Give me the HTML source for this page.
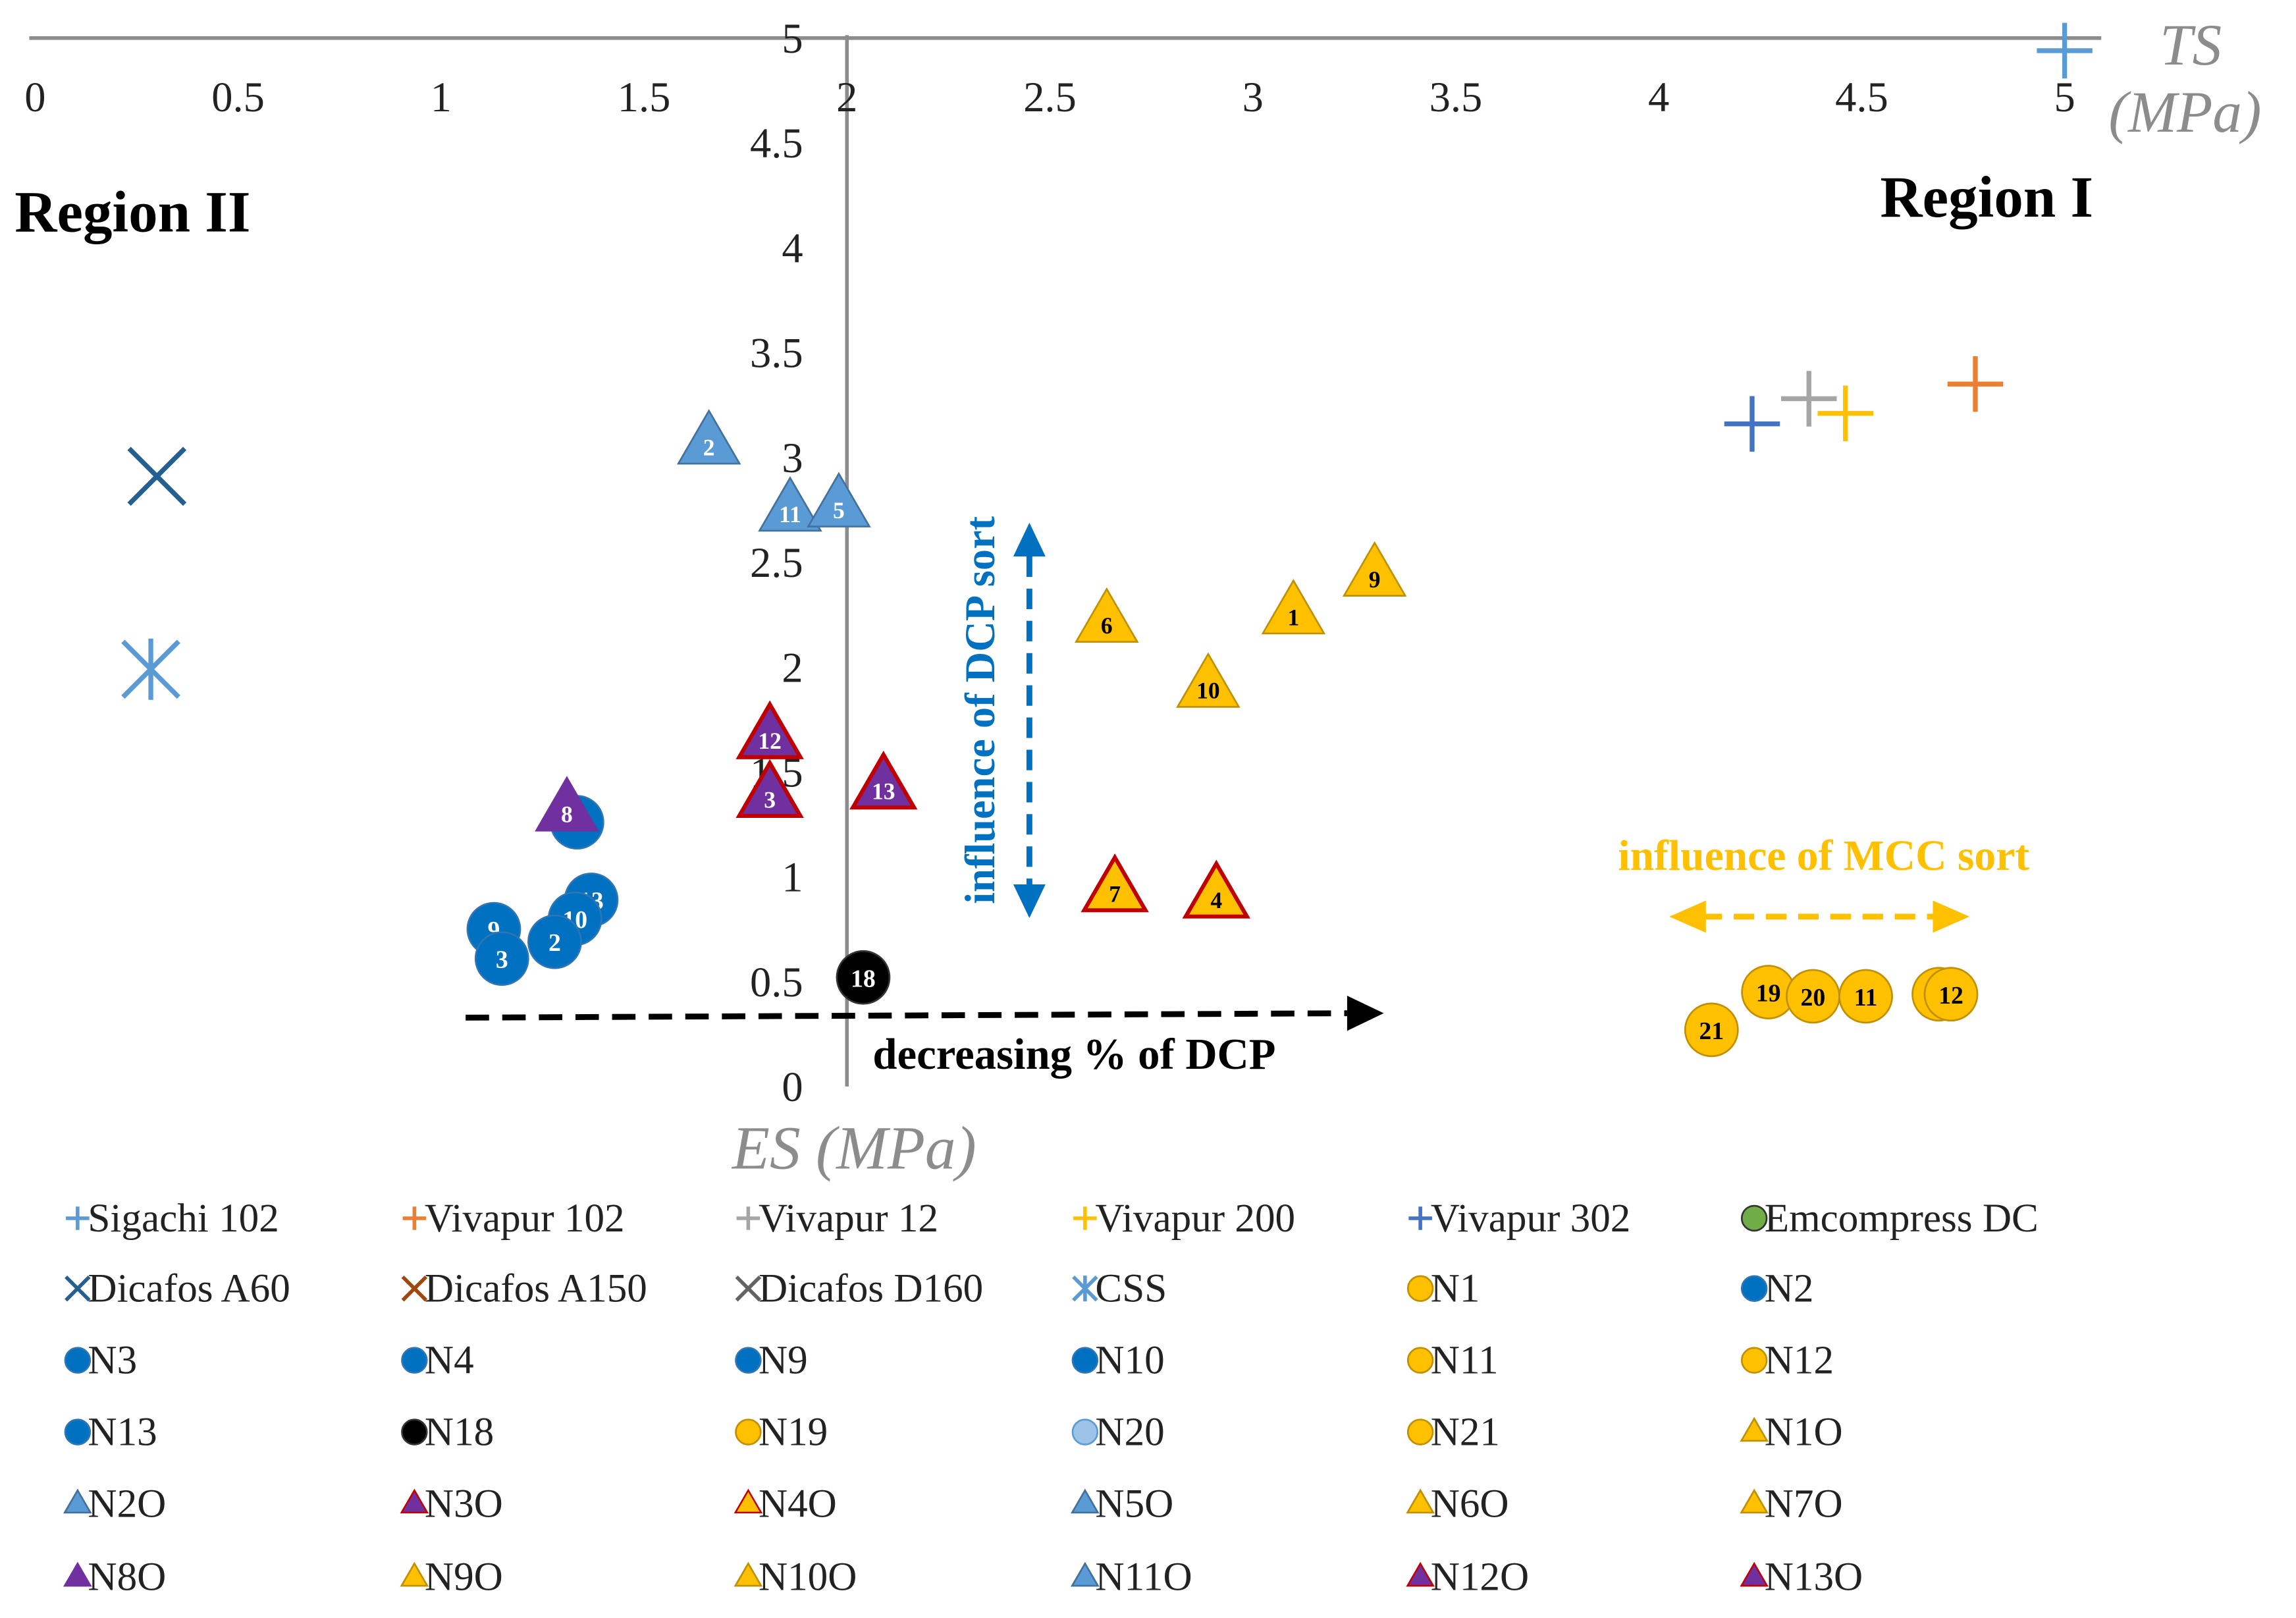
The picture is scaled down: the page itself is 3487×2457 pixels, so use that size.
<!DOCTYPE html>
<html><head><meta charset="utf-8"><style>
html,body{margin:0;padding:0;background:#fff}
svg{display:block}
text{font-family:"Liberation Serif",serif}
</style></head><body>
<svg id="chart" width="3487" height="2457" viewBox="0 0 1568 1105" preserveAspectRatio="none" xmlns="http://www.w3.org/2000/svg">
<g id="axes"></g>
<g id="marks"></g>
<g id="annot">
<text x="10" y="158" font-size="40" font-weight="bold">Region II</text>
<text x="1284" y="148" font-size="40" font-weight="bold">Region I</text>
<text x="1475" y="44" font-size="40" font-style="italic" fill="#8c8c8c">TS</text>
<text x="1440" y="90" font-size="40" font-style="italic" fill="#8c8c8c">(MPa)</text>
<text x="500" y="798" font-size="42" font-style="italic" fill="#8c8c8c">ES (MPa)</text>
<line x1="703" y1="380" x2="703" y2="608" stroke="#0070c0" stroke-width="4" stroke-dasharray="14,8"/>
<path d="M692,380 L703,357 L714,380z M692,604 L703,627 L714,604z" fill="#0070c0"/>
<text transform="translate(679,485) rotate(-90)" text-anchor="middle" font-size="29" font-weight="bold" fill="#0070c0">influence of DCP sort</text>
<text x="1105" y="594" font-size="29.5" font-weight="bold" fill="#ffc000">influence of MCC sort</text>
<line x1="1162" y1="626" x2="1322" y2="626" stroke="#ffc000" stroke-width="4" stroke-dasharray="14,8"/>
<path d="M1165,615 L1140,626 L1165,637z M1320,615 L1345,626 L1320,637z" fill="#ffc000"/>
<line x1="318" y1="695" x2="920" y2="692" stroke="#000" stroke-width="4" stroke-dasharray="16,9"/>
<path d="M920,680 L945,692 L920,704z" fill="#000"/>
<text x="596" y="730" font-size="30" font-weight="bold">decreasing % of DCP</text>
</g>
<g id="legend"></g>
</svg>
<script>
const NS="http://www.w3.org/2000/svg";
const xTicks=[0,0.5,1,1.5,2,2.5,3,3.5,4,4.5,5];
const yTicks=[0,0.5,1,1.5,2,2.5,3,3.5,4,4.5,5];
const pointNames=["Sigachi 102","Vivapur 102","Vivapur 12","Vivapur 200","Vivapur 302","Dicafos A60","CSS",
"N4","N13","N10","N9","N2","N3","N18","N19","N20","N11","N12b","N12","N21",
"N2O","N11O","N5O","N6O","N1O","N9O","N10O","N12O","N3O","N13O","N8O","N7O","N4O"];
const esValues=[5.0,4.78,4.37,4.46,4.23,0.30,0.285,
1.335,1.37,1.33,1.13,1.28,1.15,2.04,4.27,4.38,4.51,4.69,4.72,4.13,
1.66,1.86,1.98,2.64,3.10,3.30,2.89,1.81,1.81,2.09,1.31,2.66,2.91];
const tsValues=[4.94,3.35,3.28,3.21,3.16,2.91,1.99,
1.26,0.89,0.80,0.75,0.69,0.61,0.52,0.45,0.43,0.43,0.44,0.44,0.27,
3.07,2.75,2.77,2.22,2.26,2.44,1.91,1.67,1.39,1.43,1.32,0.94,0.91];
const pointLabels=["","","","","","","",
"4","13","10","9","2","3","18","19","20","11","","12","21",
"2","11","5","6","1","9","10","12","3","13","8","7","4"];
const pointStyles=["plus-lb","plus-or","plus-gr","plus-ye","plus-bl","x-db","ast-lb",
"c-bl","c-bl","c-bl","c-bl","c-bl","c-bl","c-bk","c-ye","c-ye","c-ye","c-ye","c-ye","c-ye",
"tri-lb","tri-lb","tri-lb","tri-ye","tri-ye","tri-ye","tri-ye","tri-pr","tri-pr","tri-pr","tri-pu","tri-yr","tri-yr"];
const legendNames=["Sigachi 102","Vivapur 102","Vivapur 12","Vivapur 200","Vivapur 302","Emcompress DC",
"Dicafos A60","Dicafos A150","Dicafos D160","CSS","N1","N2",
"N3","N4","N9","N10","N11","N12",
"N13","N18","N19","N20","N21","N1O",
"N2O","N3O","N4O","N5O","N6O","N7O",
"N8O","N9O","N10O","N11O","N12O","N13O"];
const legendStyles=["plus-lb","plus-or","plus-gr","plus-ye","plus-bl","c-gn",
"x-db","x-br","x-dg","ast-lb","c-ye","c-bl",
"c-bl","c-bl","c-bl","c-bl","c-ye","c-ye",
"c-bl","c-bk","c-ye","c-lb","c-ye","tri-ye",
"tri-lb","tri-pr","tri-yr","tri-lb","tri-ye","tri-ye",
"tri-pu","tri-ye","tri-ye","tri-lb","tri-pr","tri-pr"];
const X=v=>24+277.2*v, Y=v=>742-143.2*v;
const COL={lb:"#5b9bd5",or:"#ed7d31",gr:"#a5a5a5",ye:"#ffc000",bl:"#4472c4",db:"#255e91",br:"#9e480e",dg:"#636363",gn:"#70ad47",bk:"#000"};
function mk(tag,attrs,parent){const e=document.createElementNS(NS,tag);for(const k in attrs)e.setAttribute(k,attrs[k]);parent.appendChild(e);return e;}
const axes=document.getElementById('axes');
const xl=mk('line',{x1:20,y1:26,x2:1435,y2:26,stroke:"#8c8c8c","stroke-width":2.5},axes);


const yl=mk('line',{x1:X(2),y1:24,x2:X(2),y2:742,stroke:"#8c8c8c","stroke-width":2.5},axes);


xTicks.forEach(v=>{const t=mk('text',{x:X(v),y:76,"text-anchor":"middle","font-size":29,fill:"#222"},axes);t.textContent=v;

});
yTicks.forEach(v=>{const t=mk('text',{x:X(2)-30,y:Y(v)+10,"text-anchor":"end","font-size":29,fill:"#222"},axes);t.textContent=v;

});
function drawMarker(style,cx,cy,s,parent,label,lw){
 const [kind,c]=style.split('-');const g=mk('g',{},parent);
 if(kind==='plus'){mk('path',{d:`M${cx-s},${cy}H${cx+s}M${cx},${cy-s}V${cy+s}`,stroke:COL[c],"stroke-width":lw,fill:"none"},g);}
 else if(kind==='x'){mk('path',{d:`M${cx-s},${cy-s}L${cx+s},${cy+s}M${cx-s},${cy+s}L${cx+s},${cy-s}`,stroke:COL[c],"stroke-width":lw,fill:"none"},g);}
 else if(kind==='ast'){mk('path',{d:`M${cx-s},${cy-s}L${cx+s},${cy+s}M${cx-s},${cy+s}L${cx+s},${cy-s}M${cx},${cy-s*1.1}V${cy+s*1.1}`,stroke:COL[c],"stroke-width":lw,fill:"none"},g);}
 else if(kind==='c'){let fill=COL[c],st=c==='ye'?"#bf9000":(c==='bl'?"#2e75b6":"#333");if(c==='bl')fill="#0070c0";if(c==='lb'){fill="#9dc3e6";st="#5b9bd5";}
  mk('circle',{cx,cy,r:s,fill,stroke:st,"stroke-width":1.2},g);}
 else if(kind==='tri'){let fill,st,sw=1.2;
  if(c==='ye'){fill="#ffc000";st="#bf9000";}else if(c==='lb'){fill="#5b9bd5";st="#41719c";}
  else if(c==='pu'){fill="#7030a0";st="#7030a0";}else if(c==='pr'){fill="#7030a0";st="#c00000";sw=s/7;}else{fill="#ffc000";st="#c00000";sw=s/7;}
  mk('path',{d:`M${cx},${cy-s*1.15}L${cx+s*1.1},${cy+s*0.75}L${cx-s*1.1},${cy+s*0.75}Z`,fill,stroke:st,"stroke-width":sw},g);}
 if(label){const dark=style==='tri-ye'||style==='tri-yr'||style==='c-ye';
  const t=mk('text',{x:cx,y:cy+(kind==='tri'?s*0.45:s*0.35),"text-anchor":"middle","font-size":kind==='tri'?16:17,"font-weight":"bold",fill:dark?"#000":"#fff"},g);t.textContent=label;}
 return g;}
const marks=document.getElementById('marks');
pointNames.forEach((n,i)=>{const st=pointStyles[i];const k=st.split('-')[0];
 const s=k==='tri'?19:(k==='c'?18:19);
 const g=drawMarker(st,X(esValues[i]),Y(tsValues[i]),s,marks,pointLabels[i],3.3);
 
 });
const leg=document.getElementById('legend');
const colX=[53,283,511,741,970,1198], rowY=[832,880,929,978,1027,1077];
legendNames.forEach((n,i)=>{const cx=colX[i%6],cy=rowY[Math.floor(i/6)];
 const g=drawMarker(legendStyles[i],cx,cy,legendStyles[i].startsWith('c')?8.5:8,leg,"",2.5);
 const t=mk('text',{x:cx+7,y:cy+9,"font-size":27.5,fill:"#222"},g);t.textContent=n;
 
 });
</script>
</body></html>
